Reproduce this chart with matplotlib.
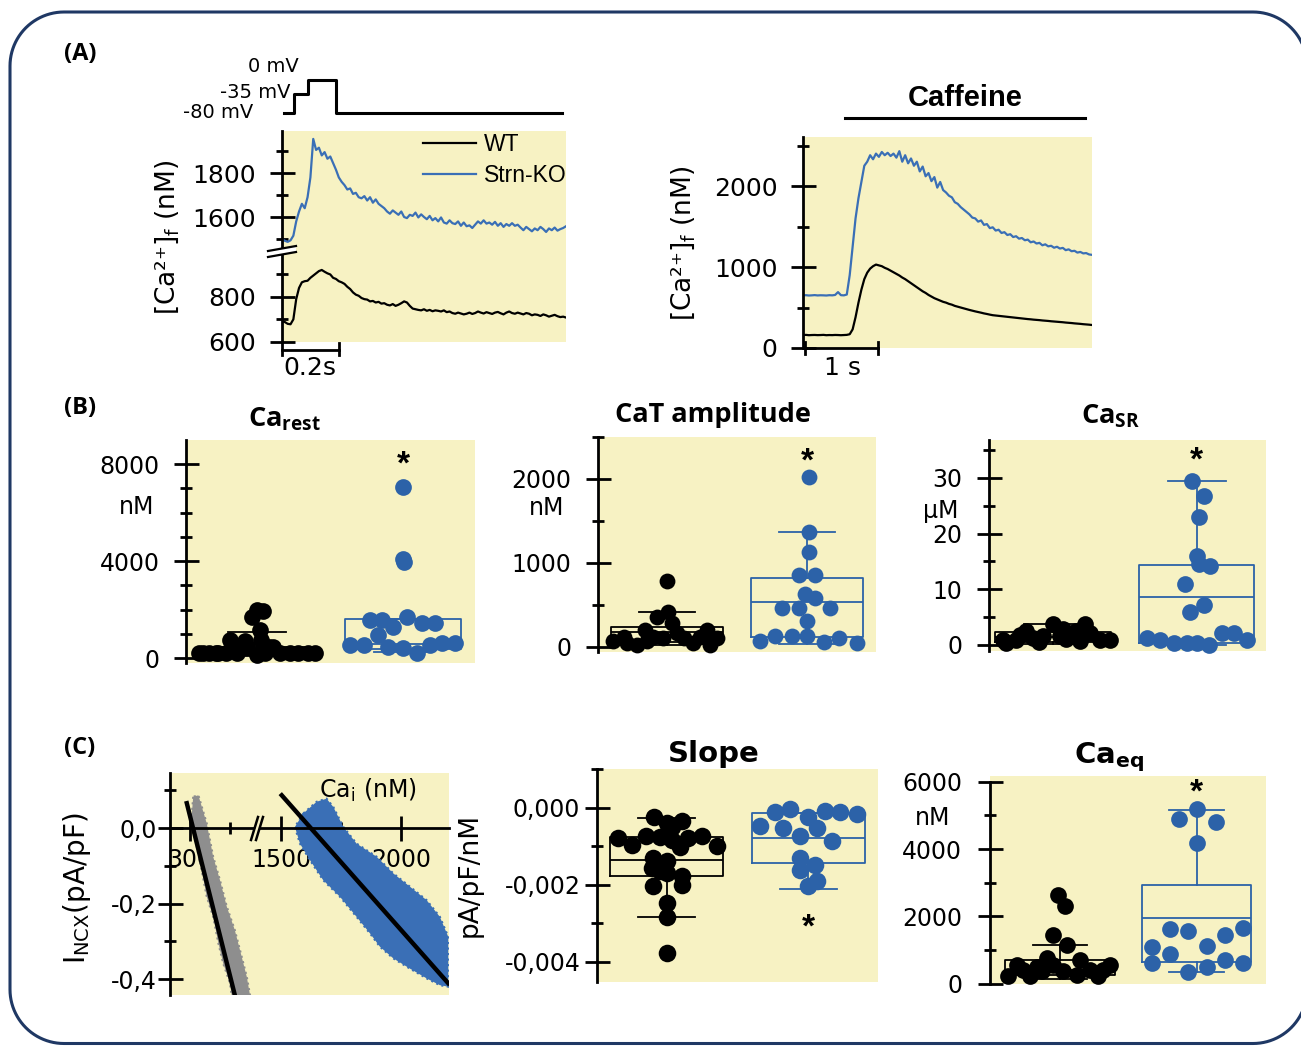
import matplotlib
matplotlib.use("Agg")
import matplotlib.pyplot as plt
import numpy as np
from matplotlib.lines import Line2D
from matplotlib.patches import Polygon
from matplotlib.transforms import blended_transform_factory

W, H = 1301, 1046
YELLOW = "#F7F2C3"
BLUE = "#2C62A8"
TRACE_BLUE = "#3A6FB6"
GRAY = "#8E8E8E"
NAVY = "#1F3864"

plt.rcParams["font.family"] = ["DejaVu Sans"]
plt.rcParams["mathtext.fontset"] = "custom"
plt.rcParams["mathtext.rm"] = "Open Sans:bold"
plt.rcParams["mathtext.bf"] = "Open Sans:bold"
plt.rcParams["mathtext.it"] = "Open Sans:bold"
plt.rcParams["axes.linewidth"] = 2.0
plt.rcParams["savefig.bbox"] = "standard"

# ---------------- (A) left: depolarisation-evoked transient (0.01 s steps)
t_dep = np.linspace(0, 1.0, 101)
ko_dep = [1498, 1492, 1487, 1494, 1515, 1580, 1625, 1660, 1640, 1690,
          1780, 1955, 1905, 1915, 1880, 1895, 1865, 1875, 1845, 1815,
          1780, 1760, 1745, 1725, 1730, 1705, 1710, 1690, 1685, 1695,
          1675, 1690, 1665, 1680, 1660, 1650, 1640, 1625, 1615, 1630,
          1620, 1610, 1625, 1600, 1595, 1610, 1605, 1620, 1598, 1612,
          1600, 1590, 1605, 1585, 1595, 1580, 1598, 1575, 1570, 1585,
          1572, 1568, 1580, 1560, 1575, 1558, 1562, 1550, 1565, 1580,
          1570, 1585, 1570, 1575, 1565, 1578, 1560, 1572, 1555, 1568,
          1560, 1572, 1560, 1565, 1552, 1540, 1555, 1545, 1535, 1548,
          1540, 1555, 1545, 1532, 1548, 1540, 1552, 1538, 1545, 1550, 1558]
wt_dep = [690, 688, 680, 678, 700, 790, 840, 865, 870, 872,
          885, 895, 905, 915, 920, 912, 905, 900, 885, 880,
          870, 865, 858, 845, 835, 820, 810, 805, 795, 790,
          788, 780, 782, 775, 778, 770, 772, 765, 762, 768,
          760, 765, 772, 780, 775, 760, 748, 745, 742, 740,
          745, 738, 742, 736, 740, 738, 735, 740, 732, 735,
          728, 725, 730, 726, 722, 725, 730, 724, 728, 735,
          730, 726, 732, 728, 724, 730, 733, 727, 722, 730,
          735, 728, 725, 730, 726, 722, 728, 725, 718, 722,
          720, 715, 722, 718, 712, 716, 720, 714, 710, 712, 708]
step_t = [0.007, 0.042, 0.091, 0.19, 0.986]
step_mv = [-80, -35, 0, -80, -80]

# ---------------- (A) right: caffeine-evoked transient (0.04 s steps)
t_caf = np.linspace(0, 3.96, 100)
ko_caf = [650, 652, 648, 650, 653, 649, 651, 650, 648, 652,
          650, 655, 690, 652, 650, 660, 900, 1250, 1600, 1850,
          2050, 2250, 2300, 2380, 2330, 2400, 2360, 2420, 2380, 2410,
          2370, 2400, 2350, 2430, 2300, 2380, 2280, 2340, 2250, 2300,
          2180, 2240, 2120, 2160, 2060, 2110, 1980, 2050, 1950, 1920,
          1880, 1860, 1800, 1780, 1740, 1710, 1680, 1650, 1610, 1600,
          1560, 1575, 1520, 1530, 1480, 1490, 1450, 1460, 1420, 1430,
          1395, 1405, 1370, 1380, 1350, 1358, 1330, 1338, 1305, 1315,
          1290, 1298, 1268, 1280, 1255, 1262, 1238, 1250, 1228, 1236,
          1208, 1218, 1195, 1200, 1178, 1186, 1168, 1172, 1155, 1150]
wt_caf = [160, 162, 158, 160, 161, 159, 160, 162, 158, 160,
          159, 161, 160, 158, 160, 162, 170, 230, 380, 560,
          720, 850, 930, 980, 1010, 1030, 1020, 1010, 990, 975,
          955, 935, 915, 895, 870, 850, 825, 800, 775, 750,
          725, 700, 680, 655, 635, 615, 600, 585, 570, 560,
          545, 535, 520, 510, 500, 490, 480, 470, 461, 452,
          444, 436, 427, 420, 412, 405, 401, 397, 393, 389,
          385, 381, 377, 373, 369, 365, 361, 357, 354, 350,
          347, 344, 340, 337, 334, 330, 327, 324, 321, 318,
          314, 311, 308, 304, 301, 298, 294, 291, 288, 284]
caff_on, caff_off = 0.575, 3.86

# ---------------- (B) scatter data  (x = jitter around group position)
rest_wt_x = [-0.40, -0.37, -0.33, -0.28, -0.265, -0.21, -0.185, -0.14, -0.10, -0.082, -0.07, -0.036,
             0.0, 0.0, 0.02, 0.03, 0.04, 0.055, 0.08, 0.11, 0.16, 0.226, 0.28, 0.35, 0.40]
rest_wt_y = [190, 200, 200, 200, 190, 210, 740, 200, 460, 720, 470, 1690,
             1980, 130, 1150, 750, 1950, 190, 460, 470, 190, 190, 190, 190, 190]
rest_ko_x = [0.0, 0.0, 0.005, -0.226, -0.146, 0.025, -0.066, 0.128, 0.22, -0.17,
             -0.363, -0.27, -0.10, 0.0, 0.094, 0.185, 0.265, 0.356]
rest_ko_y = [7065, 4100, 3950, 1567, 1567, 1704, 1292, 1430, 1430, 948,
             536, 536, 467, 398, 192, 536, 605, 605]
rest_wt_box = [80, 130, 200, 450, 1070]      # whislo, q1, med, q3, whishi
rest_ko_box = [260, 390, 560, 1590, 1590]

amp_wt_x = [-0.383, -0.31, -0.288, -0.216, -0.157, -0.145, -0.098, -0.074, -0.026, 0.0,
            0.01, 0.034, 0.069, 0.119, 0.188, 0.236, 0.283, 0.307, 0.355]
amp_wt_y = [67, 122, 43, 24, 201, 67, 122, 359, 103, 785, 418, 280, 162, 103, 43, 122, 201, 24, 103]
amp_ko_x = [0.012, 0.012, 0.012, -0.06, 0.06, -0.012, 0.06, -0.18, -0.06, 0.167,
            0.0, -0.333, -0.226, -0.107, 0.0, 0.119, 0.226, 0.357]
amp_ko_y = [2024, 1365, 1128, 852, 852, 627, 588, 458, 458, 458, 311, 75, 130, 130, 130, 63, 103, 43]
amp_wt_box = [25, 60, 180, 233, 418]
amp_ko_box = [40, 122, 536, 824, 1365]

sr_wt_x = [-0.347, -0.324, -0.255, -0.23, -0.185, -0.139, -0.10, -0.069, 0.0, 0.046, 0.07,
           0.093, 0.162, 0.19, 0.22, 0.255, 0.324, 0.394]
sr_wt_y = [0.9, 0.3, 0.9, 1.8, 2.5, 1.3, 0.5, 1.6, 3.7, 1.6, 2.8, 1.0, 2.5, 0.7, 3.7, 2.2, 0.9, 0.9]
sr_ko_x = [-0.035, 0.046, 0.012, 0.0, 0.012, 0.093, -0.081, -0.046, 0.046,
           -0.347, -0.255, -0.162, -0.069, 0.0, 0.081, 0.174, 0.255, 0.347]
sr_ko_y = [29.4, 26.8, 22.9, 15.9, 14.6, 14.1, 10.9, 6.0, 7.2,
           1.2, 0.9, 0.3, 0.3, 0.3, 0.0, 2.1, 2.1, 0.9]
sr_wt_box = [0.2, 0.6, 1.4, 2.4, 3.7]
sr_ko_box = [0.0, 0.3, 8.7, 14.4, 29.5]

# ---------------- (C) NCX current vs Ca_i (band outlines) and fitted lines
wt_cloud_x = [308, 304, 317, 329, 342, 358, 371, 383, 400, 404,
              450, 442, 425, 412, 392, 375, 358, 342, 321]
wt_cloud_y = [0.083, 0.030, -0.050, -0.111, -0.182, -0.235, -0.305, -0.358, -0.411, -0.442,
              -0.442, -0.394, -0.323, -0.270, -0.208, -0.138, -0.076, 0.012, 0.087]
ko_cloud_x = [1593, 1649, 1690, 1718, 1760, 1815, 1899, 1968, 2037, 2107, 2162, 2197, 2197,
              2162, 2107, 2037, 1968, 1912, 1871, 1815, 1746, 1676, 1621, 1579, 1558]
ko_cloud_y = [0.039, 0.070, 0.078, 0.056, 0.003, -0.041, -0.076, -0.120, -0.155, -0.191, -0.235, -0.288, -0.420,
              -0.416, -0.398, -0.372, -0.345, -0.314, -0.279, -0.235, -0.182, -0.138, -0.085, -0.041, 0.003]
wt_fit_x, wt_fit_y = [292, 412], [0.066, -0.442]
ko_fit_x, ko_fit_y = [1503, 2197], [0.087, -0.411]

slope_wt_x = [-0.09, 0.0, 0.106, 0.035, -0.341, -0.247, -0.146, -0.047, 0.035, 0.094, 0.153, 0.247,
              0.353, -0.094, 0.0, -0.106, -0.047, 0.0, 0.106, -0.094, 0.106, 0.0, 0.005, 0.005]
slope_wt_y = [-0.000242, -0.000398, -0.00033, -0.0005, -0.000788, -0.00096, -0.000727, -0.00076,
              -0.00083, -0.00102, -0.000788, -0.000727, -0.001, -0.00131, -0.00139, -0.00157,
              -0.00165, -0.0017, -0.00178, -0.00204, -0.002, -0.00248, -0.00282, -0.00377]
slope_ko_x = [-0.341, -0.235, -0.129, 0.0, 0.118, 0.224, 0.341, -0.176, 0.059, -0.059, 0.165,
              -0.059, 0.047, -0.059, 0.059, 0.0]
slope_ko_y = [-0.00047, -0.000095, -0.000035, -0.00024, -0.00008, -0.000095, -0.000156, -0.00053,
              -0.00053, -0.00073, -0.00087, -0.00131, -0.00148, -0.00161, -0.00191, -0.00204]
slope_wt_box = [-0.00284, -0.00178, -0.00135, -0.000745, -0.000268]
slope_ko_box = [-0.0021, -0.00144, -0.000788, -0.00014, -0.00014]

eq_wt_x = [-0.012, 0.037, -0.049, 0.049, -0.098, 0.146, -0.378, 0.366, 0.317, -0.268,
           -0.17, -0.049, 0.024, 0.122, 0.22, 0.28, -0.317, -0.22, -0.134]
eq_wt_y = [2641, 2295, 1454, 1157, 762, 712, 218, 564, 415, 415, 495, 564, 366, 267, 415, 218, 564, 218, 366]
eq_ko_x = [0.0, -0.127, 0.141, 0.0, -0.195, -0.061, 0.341, 0.207, 0.073, -0.329,
           -0.195, -0.329, 0.207, 0.341, 0.073, -0.061]
eq_ko_y = [5183, 4886, 4817, 4194, 1622, 1573, 1652, 1454, 1128, 1088, 890, 613, 712, 613, 494, 346]
eq_wt_box = [150, 250, 420, 712, 1137]
eq_ko_box = [346, 643, 1949, 2938, 5163]


fig = plt.figure(figsize=(W / 100, H / 100), dpi=100)


def box_axes(l, t, r, b):
    return fig.add_axes([l / W, 1 - b / H, (r - l) / W, (b - t) / H])


def ftext(x, y, s, **kw):
    return fig.text(x / W, 1 - y / H, s, **kw)


def fline(xs, ys, **kw):
    fig.add_artist(Line2D([x / W for x in xs], [1 - y / H for y in ys],
                          transform=fig.transFigure, **kw))


def fpoly(pts, color):
    fig.add_artist(Polygon([(x / W, 1 - y / H) for x, y in pts], closed=True,
                           transform=fig.transFigure, fc=color, ec="none"))


def yaxis_style(ax, major, labels, minor, pad, size=17):
    ax.set_facecolor(YELLOW)
    for s in ("top", "right", "bottom"):
        ax.spines[s].set_visible(False)
    ax.set_xticks([])
    ax.set_yticks(major, labels)
    ax.set_yticks(minor, minor=True)
    ax.tick_params(axis="y", which="major", direction="inout", length=18, width=2,
                   pad=pad, labelsize=size)
    ax.tick_params(axis="y", which="minor", direction="inout", length=9, width=2)


def stats(v):
    return dict(whislo=v[0], q1=v[1], med=v[2], q3=v[3], whishi=v[4])


def dot_panel(box, ylim, xlim, major, labels, minor, pad, wt, ko, wt_box, ko_box,
              star_y, star_dy, size=145):
    ax = box_axes(*box)
    yaxis_style(ax, major, labels, minor, pad)
    for pos, st, col in ((0, wt_box, "black"), (1, ko_box, BLUE)):
        props = dict(color=col, linewidth=1.3)
        ax.bxp([stats(st)], positions=[pos], widths=0.8, capwidths=0.4, showfliers=False,
               manage_ticks=False, boxprops=props, whiskerprops=props, capprops=props,
               medianprops=props)
    ax.scatter(wt[0], wt[1], s=size, color="black", linewidths=0, zorder=3, clip_on=False)
    ax.scatter(1 + np.asarray(ko[0]), ko[1], s=size, color=BLUE, linewidths=0, zorder=3,
               clip_on=False)
    ax.annotate("*", (1, star_y), xytext=(0, star_dy), textcoords="offset pixels",
                ha="center", va="baseline", fontsize=24, fontweight="bold",
                family="Liberation Sans")
    ax.set_xlim(*xlim)
    ax.set_ylim(*ylim)
    return ax


CA_LABEL = "[Ca\u00b2\u207a]$_\\mathrm{f}$ (nM)"

# ================= panel A left =================
ax_v = box_axes(282, 60, 566, 125)
ax_v.axis("off")
ax_v.plot(step_t, step_mv, drawstyle="steps-post", color="black", lw=2.2)
ax_v.set_xlim(0, 1.0)
ax_v.set_ylim(-109.2, 48.4)
ftext(299, 66, "0 mV", ha="right", va="center", fontsize=14)
ftext(291, 93, "-35 mV", ha="right", va="center", fontsize=14)
ftext(253, 113, "-80 mV", ha="right", va="center", fontsize=14)

ax_top = box_axes(282, 131, 566, 250)
ax_bot = box_axes(282, 250, 566, 342)
yaxis_style(ax_top, [1600, 1800], ["1600", "1800"], [1500, 1700, 1900], 9.5, 18)
yaxis_style(ax_bot, [600, 800], ["600", "800"], [700, 900], 9.5, 18)
ko_line, = ax_top.plot(t_dep, ko_dep, color=TRACE_BLUE, lw=1.6)
wt_line, = ax_bot.plot(t_dep, wt_dep, color="black", lw=1.6)
for ax in (ax_top, ax_bot):
    ax.set_xlim(0, 1.0)
ax_top.set_ylim(1450, 1991)
ax_bot.set_ylim(599, 1009)
ax_top.legend([wt_line, ko_line], ["WT", "Strn-KO"], loc="upper left",
              bbox_to_anchor=(423 / W, 1 - 133 / H), bbox_transform=fig.transFigure,
              frameon=False, borderpad=0, borderaxespad=0, handlelength=2.3,
              handletextpad=0.35, labelspacing=0.36,
              prop={"family": "Liberation Sans", "size": 16.5})
# axis break
fpoly([(268, 251), (296, 246), (296, 252), (268, 257)], "white")
fline([268, 296], [251, 246], color="black", lw=1.6)
fline([268, 296], [257, 252], color="black", lw=1.6)
# 0.2 s scale bar
tr = blended_transform_factory(ax_bot.transData, ax_bot.transAxes)
ax_bot.plot([0, 0.2], [-0.087, -0.087], color="black", lw=2, transform=tr, clip_on=False)
ax_bot.plot([0, 0], [0, -0.14], color="black", lw=2, transform=tr, clip_on=False)
ax_bot.plot([0.2, 0.2], [-0.01, -0.14], color="black", lw=2, transform=tr, clip_on=False)
ftext(310, 368, "0.2s", ha="center", va="center", fontsize=18)
ftext(167, 237, CA_LABEL, rotation=90, ha="center", va="center",
      fontsize=19, math_fontfamily="dejavusans")

# ================= panel A right =================
ax_c = box_axes(803, 137, 1092, 348)
yaxis_style(ax_c, [0, 1000, 2000], ["0", "1000", "2000"], [500, 1500, 2500], 9.5, 18)
ax_c.plot(t_caf, ko_caf, color=TRACE_BLUE, lw=1.6)
ax_c.plot(t_caf, wt_caf, color="black", lw=1.6)
ax_c.set_xlim(0, 3.96)
ax_c.set_ylim(0, 2605)
tr = blended_transform_factory(ax_c.transData, ax_c.transAxes)
ax_c.plot([0.03, 1.03], [0, 0], color="black", lw=2, transform=tr, clip_on=False)
ax_c.plot([0.03, 0.03], [0.028, -0.03], color="black", lw=2, transform=tr, clip_on=False)
ax_c.plot([1.03, 1.03], [0.028, -0.03], color="black", lw=2, transform=tr, clip_on=False)
ax_c.plot([caff_on, caff_off], [1.09, 1.09], color="black", lw=2.2, transform=tr, clip_on=False)
ftext(965, 106, "Caffeine", ha="center", va="baseline", fontsize=21, fontweight="bold",
      family="Liberation Sans")
ftext(842, 368, "1 s", ha="center", va="center", fontsize=18)
ftext(683, 243, CA_LABEL, rotation=90, ha="center", va="center",
      fontsize=19, math_fontfamily="dejavusans")

# ================= panel B =================
dot_panel((186, 440, 475, 663), (-206, 8990), (-0.486, 1.493), [0, 4000, 8000],
          ["0", "4000", "8000"], [1000, 2000, 3000, 5000, 6000, 7000, 9000], 10,
          (rest_wt_x, rest_wt_y), (rest_ko_x, rest_ko_y), rest_wt_box, rest_ko_box, 8290, -17)
ftext(137, 507, "nM", ha="center", va="center", fontsize=17)
ftext(284, 427, r"$\mathrm{Ca}_{\mathrm{rest}}$", ha="center", va="baseline", fontsize=19.5)

dot_panel((598, 437, 876, 652), (-60, 2500), (-0.493, 1.493), [0, 1000, 2000],
          ["0", "1000", "2000"], [500, 1500, 2500], 10,
          (amp_wt_x, amp_wt_y), (amp_ko_x, amp_ko_y), amp_wt_box, amp_ko_box, 2308, -17, size=130)
ftext(547, 508, "nM", ha="center", va="center", fontsize=17)
ftext(713, 422, "CaT amplitude", ha="center", va="baseline", fontsize=19.5, fontweight="bold",
      family="Open Sans")

dot_panel((989, 440, 1266, 651), (-1.08, 36.8), (-0.444, 1.48), [0, 10, 20, 30],
          ["0", "10", "20", "30"], [5, 15, 25, 35], 10,
          (sr_wt_x, sr_wt_y), (sr_ko_x, sr_ko_y), sr_wt_box, sr_ko_box, 34.5, -17)
ftext(941, 511, "\u00b5M", ha="center", va="center", fontsize=17)
ftext(1110, 423, r"$\mathrm{Ca}_{\mathrm{SR}}$", ha="center", va="baseline", fontsize=19.5)

# ================= panel C left: I_NCX vs Ca_i =================
ax_l = box_axes(170, 773, 257, 995)
ax_r = box_axes(257, 773, 449, 995)
for ax in (ax_l, ax_r):
    ax.set_facecolor(YELLOW)
    ax.spines["top"].set_visible(False)
    ax.spines["right"].set_visible(False)
    ax.spines["bottom"].set_position(("data", 0))
    ax.set_axisbelow(True)
    ax.set_ylim(-0.442, 0.146)
    ax.tick_params(axis="x", which="major", direction="inout", length=18, width=2, pad=5,
                   labelsize=17)
    ax.tick_params(axis="x", which="minor", direction="inout", length=9, width=2)
ax_r.spines["left"].set_visible(False)
ax_r.set_yticks([])
ax_l.set_yticks([0, -0.2, -0.4], ["0,0", "-0,2", "-0,4"])
ax_l.set_yticks([0.1, -0.1, -0.3], minor=True)
ax_l.tick_params(axis="y", which="major", direction="inout", length=18, width=2, pad=0.5,
                 labelsize=17)
ax_l.tick_params(axis="y", which="minor", direction="inout", length=9, width=2)
ax_l.set_xlim(250, 467.5)
ax_r.set_xlim(1400, 2200)
ax_l.set_xticks([300], ["300"])
ax_l.set_xticks([400], minor=True)
ax_r.set_xticks([1500, 2000], ["1500", "2000"])
ax_r.set_xticks([1750], minor=True)
ax_l.add_patch(Polygon(np.column_stack([wt_cloud_x, wt_cloud_y]), closed=True, fc=GRAY,
                       ec=GRAY, lw=1.5, ls=":", zorder=1))
ax_r.add_patch(Polygon(np.column_stack([ko_cloud_x, ko_cloud_y]), closed=True, fc=TRACE_BLUE,
                       ec=TRACE_BLUE, lw=1.5, ls=":", zorder=1))
ax_l.plot(wt_fit_x, wt_fit_y, color="black", lw=3.2, zorder=3)
ax_r.plot(ko_fit_x, ko_fit_y, color="black", lw=3.2, zorder=3)
fpoly([(252, 840), (258.5, 817), (263, 817), (256.5, 840)], YELLOW)
fline([251, 258], [840, 817], color="black", lw=1.8)
fline([256, 263], [840, 817], color="black", lw=1.8)
ftext(368, 790, r"Ca$_\mathrm{i}$ (nM)", ha="center", va="center", fontsize=17,
      math_fontfamily="dejavusans")
ftext(77, 888, r"I$_\mathrm{NCX}$(pA/pF)", rotation=90, ha="center", va="center", fontsize=20,
      math_fontfamily="dejavusans")

# ================= panel C middle / right =================
dot_panel((597, 769, 878, 982), (-0.00452, 0.00101), (-0.492, 1.492), [0, -0.002, -0.004],
          ["0,000", "-0,002", "-0,004"], [0.001, -0.001, -0.003], 3,
          (slope_wt_x, slope_wt_y), (slope_ko_x, slope_ko_y), slope_wt_box, slope_ko_box,
          -0.00291, -17, size=160)
ftext(470, 875, "pA/pF/nM", rotation=90, ha="center", va="center", fontsize=19)
ftext(714, 762, "Slope", ha="center", va="baseline", fontsize=21, fontweight="bold")

ax_eq = dot_panel((990, 776, 1266, 984), (-10, 6170), (-0.512, 1.507), [0, 2000, 4000, 6000],
                  ["0", "2000", "4000", "6000"], [1000, 3000, 5000], 11,
                  (eq_wt_x, eq_wt_y), (eq_ko_x, eq_ko_y), eq_wt_box, eq_ko_box, 5905, -17)
ax_eq.spines["left"].set_bounds(-10, 6000)
ftext(933, 818, "nM", ha="center", va="center", fontsize=17)
ftext(1109, 763, r"$\mathbf{Ca}_{\mathbf{eq}}$", ha="center", va="baseline", fontsize=21,
      math_fontfamily="dejavusans")

# ================= labels and frame =================
for lab, y in (("(A)", 54), ("(B)", 408), ("(C)", 748)):
    ftext(80, y, lab, ha="center", va="center", fontsize=17, fontweight="bold",
          family="Open Sans")

# rounded frame, drawn as an open outline: its right side lies outside the picture
fl, ft, fr, fb, rad = 10, 12, 1307, 1043.5, 54
corners = [(fr - rad, ft + rad, 0, 90), (fl + rad, ft + rad, 90, 180),
           (fl + rad, fb - rad, 180, 270), (fr - rad, fb - rad, 270, 360)]
frame_x, frame_y = [], []
for cx, cy, a0, a1 in corners:
    ang = np.radians(np.linspace(a0, a1, 25))
    frame_x += list(cx + rad * np.cos(ang))
    frame_y += list(cy - rad * np.sin(ang))
fline(frame_x, frame_y, color=NAVY, lw=2.2, solid_capstyle="round")

fig.savefig("out.png", dpi=100, bbox_inches=None)
